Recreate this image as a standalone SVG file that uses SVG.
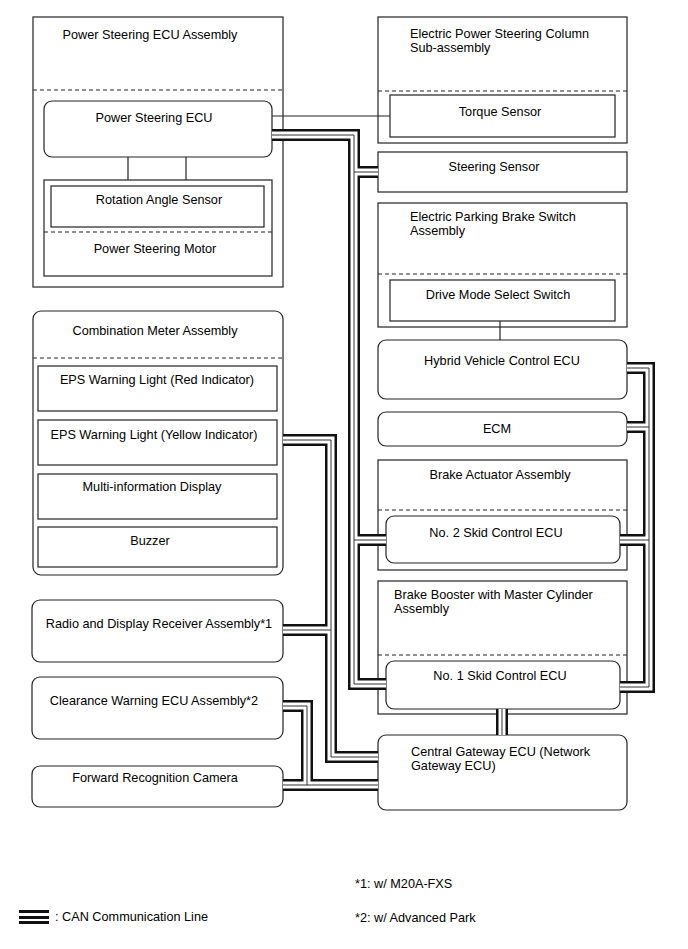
<svg xmlns="http://www.w3.org/2000/svg" xmlns:xlink="http://www.w3.org/1999/xlink" width="688" height="949" viewBox="0 0 688 949">
<style>
  text { font-family: "Liberation Sans", Arial, sans-serif; font-size: 12.7px; fill: #000; }
  .c { text-anchor: middle; }
  .box { fill: #fff; stroke: #222; stroke-width: 1.2; }
  .dash { stroke: #222; stroke-width: 1.2; stroke-dasharray: 4 3; fill: none; }
  .thin { stroke: #222; stroke-width: 1.2; fill: none; }
  .canA { fill: none; stroke: #111; stroke-width: 12; stroke-linejoin: miter; stroke-linecap: butt; }
  .canB { fill: none; stroke: #fff; stroke-width: 7; stroke-linejoin: miter; stroke-linecap: butt; }
  .canC { fill: none; stroke: #333; stroke-width: 1; stroke-linejoin: miter; stroke-linecap: butt; }
</style>
<defs>
  <path id="b1" d="M272,135 H354 V684 H386"/>
  <path id="b1a" d="M354,172 H378"/>
  <path id="b1b" d="M354,540 H386"/>
  <path id="b2" d="M627,368 H649 V687 H620"/>
  <path id="b2a" d="M649,427 H627"/>
  <path id="b2b" d="M649,540 H620"/>
  <path id="b3" d="M283,440 H331 V757 H378"/>
  <path id="b3a" d="M283,630 H331"/>
  <path id="b4" d="M283,706 H307 V785"/>
  <path id="b4a" d="M283,785 H378"/>
  <path id="b5" d="M502,709 V735"/>
</defs>
<rect width="688" height="949" fill="#fff"/>

<g id="ps-ecu-assembly">
  <rect class="box" x="33" y="17" width="250" height="270"/>
  <line class="dash" x1="33" y1="90" x2="283" y2="90"/>
  <text class="c" x="150" y="39">Power Steering ECU Assembly</text>
</g>
<g id="ps-ecu">
  <rect class="box" x="44" y="101" width="228" height="56" rx="8"/>
  <text class="c" x="154" y="122">Power Steering ECU</text>
</g>
<g id="ps-motor">
  <rect class="box" x="44" y="180" width="228" height="96"/>
  <line class="dash" x1="44" y1="232" x2="272" y2="232"/>
  <text class="c" x="155" y="253">Power Steering Motor</text>
</g>
<g id="rotation-angle-sensor">
  <rect class="box" x="51" y="186" width="213" height="41"/>
  <text class="c" x="159" y="204">Rotation Angle Sensor</text>
</g>

<g id="eps-column">
  <rect class="box" x="378" y="17" width="249" height="126"/>
  <line class="dash" x1="378" y1="91" x2="627" y2="91"/>
  <text x="410" y="38">Electric Power Steering Column</text>
  <text x="410" y="52">Sub-assembly</text>
</g>
<g id="torque-sensor">
  <rect class="box" x="390" y="95" width="225" height="42"/>
  <text class="c" x="500" y="116">Torque Sensor</text>
</g>
<g id="steering-sensor">
  <rect class="box" x="378" y="152" width="249" height="40"/>
  <text class="c" x="494" y="171">Steering Sensor</text>
</g>
<g id="epb-switch">
  <rect class="box" x="378" y="203" width="249" height="124"/>
  <line class="dash" x1="378" y1="274" x2="627" y2="274"/>
  <text x="410" y="221">Electric Parking Brake Switch</text>
  <text x="410" y="235">Assembly</text>
</g>
<g id="drive-mode-switch">
  <rect class="box" x="390" y="280" width="225" height="41"/>
  <text class="c" x="498" y="299">Drive Mode Select Switch</text>
</g>
<g id="hv-ecu">
  <rect class="box" x="378" y="340" width="249" height="59" rx="8"/>
  <text class="c" x="502" y="365">Hybrid Vehicle Control ECU</text>
</g>
<g id="ecm">
  <rect class="box" x="378" y="412" width="249" height="34" rx="8"/>
  <text class="c" x="497" y="433">ECM</text>
</g>
<g id="brake-actuator">
  <rect class="box" x="378" y="460" width="249" height="110"/>
  <line class="dash" x1="378" y1="510" x2="627" y2="510"/>
  <text class="c" x="500" y="479">Brake Actuator Assembly</text>
</g>
<g id="skid-ecu-2">
  <rect class="box" x="386" y="516" width="234" height="47" rx="8"/>
  <text class="c" x="496" y="537">No. 2 Skid Control ECU</text>
</g>
<g id="brake-booster">
  <rect class="box" x="378" y="581" width="249" height="133"/>
  <line class="dash" x1="378" y1="655" x2="627" y2="655"/>
  <text x="394" y="599">Brake Booster with Master Cylinder</text>
  <text x="394" y="613">Assembly</text>
</g>
<g id="skid-ecu-1">
  <rect class="box" x="386" y="661" width="234" height="48" rx="8"/>
  <text class="c" x="500" y="680">No. 1 Skid Control ECU</text>
</g>
<g id="central-gateway">
  <rect class="box" x="378" y="735" width="249" height="75" rx="8"/>
  <text x="411" y="756">Central Gateway ECU (Network</text>
  <text x="411" y="770">Gateway ECU)</text>
</g>

<g id="combination-meter">
  <rect class="box" x="33" y="311" width="250" height="264" rx="8"/>
  <line class="dash" x1="33" y1="358" x2="283" y2="358"/>
  <text class="c" x="155" y="335">Combination Meter Assembly</text>
</g>
<g id="eps-red">
  <rect class="box" x="38" y="366" width="239" height="45"/>
  <text class="c" x="157" y="384">EPS Warning Light (Red Indicator)</text>
</g>
<g id="eps-yellow">
  <rect class="box" x="38" y="420" width="239" height="45"/>
  <text class="c" x="154" y="439">EPS Warning Light (Yellow Indicator)</text>
</g>
<g id="multi-display">
  <rect class="box" x="38" y="474" width="239" height="45"/>
  <text class="c" x="152" y="491">Multi-information Display</text>
</g>
<g id="buzzer">
  <rect class="box" x="38" y="527" width="239" height="40"/>
  <text class="c" x="150" y="545">Buzzer</text>
</g>
<g id="radio">
  <rect class="box" x="32" y="600" width="251" height="62" rx="8"/>
  <text class="c" x="159" y="628">Radio and Display Receiver Assembly*1</text>
</g>
<g id="clearance">
  <rect class="box" x="32" y="677" width="251" height="62" rx="8"/>
  <text class="c" x="154" y="705">Clearance Warning ECU Assembly*2</text>
</g>
<g id="camera">
  <rect class="box" x="32" y="766" width="251" height="41" rx="8"/>
  <text class="c" x="155" y="782">Forward Recognition Camera</text>
</g>

<g id="connectors">
  <line class="thin" x1="272" y1="116" x2="390" y2="116"/>
  <line class="thin" x1="128" y1="157" x2="128" y2="180"/>
  <line class="thin" x1="186" y1="157" x2="186" y2="180"/>
  <line class="thin" x1="500" y1="321" x2="500" y2="340"/>
  <g class="canA">
    <use xlink:href="#b1"/><use xlink:href="#b1a"/><use xlink:href="#b1b"/>
    <use xlink:href="#b2"/><use xlink:href="#b2a"/><use xlink:href="#b2b"/>
    <use xlink:href="#b3"/><use xlink:href="#b3a"/>
    <use xlink:href="#b4"/><use xlink:href="#b4a"/><use xlink:href="#b5"/>
  </g>
  <g class="canB">
    <use xlink:href="#b1"/><use xlink:href="#b1a"/><use xlink:href="#b1b"/>
    <use xlink:href="#b2"/><use xlink:href="#b2a"/><use xlink:href="#b2b"/>
    <use xlink:href="#b3"/><use xlink:href="#b3a"/>
    <use xlink:href="#b4"/><use xlink:href="#b4a"/><use xlink:href="#b5"/>
  </g>
  <g class="canC">
    <use xlink:href="#b1"/><use xlink:href="#b1a"/><use xlink:href="#b1b"/>
    <use xlink:href="#b2"/><use xlink:href="#b2a"/><use xlink:href="#b2b"/>
    <use xlink:href="#b3"/><use xlink:href="#b3a"/>
    <use xlink:href="#b4"/><use xlink:href="#b4a"/><use xlink:href="#b5"/>
  </g>
</g>

<g id="legend">
  <rect x="19" y="910" width="30" height="3" fill="#111"/>
  <rect x="19" y="916" width="30" height="3" fill="#111"/>
  <rect x="19" y="921" width="30" height="3" fill="#111"/>
  <text x="55" y="921">: CAN Communication Line</text>
  <text x="355" y="888">*1: w/ M20A-FXS</text>
  <text x="355" y="922">*2: w/ Advanced Park</text>
</g>
</svg>
